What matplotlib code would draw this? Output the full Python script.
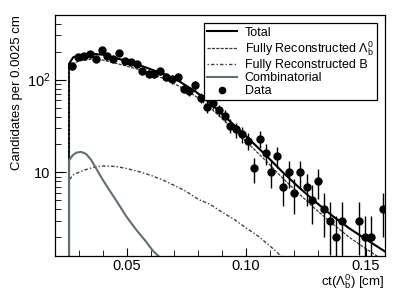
import numpy as np
import matplotlib
matplotlib.use('Agg')
import matplotlib.pyplot as plt
from matplotlib.lines import Line2D
from matplotlib.ticker import FixedLocator, FixedFormatter, LogLocator, NullFormatter, MultipleLocator

plt.rcParams['font.family'] = ['Liberation Sans', 'DejaVu Sans']
plt.rcParams['mathtext.fontset'] = 'custom'
plt.rcParams['mathtext.rm'] = 'Liberation Sans'
plt.rcParams['mathtext.it'] = 'Liberation Sans'

# lower ct cut, curves start here
ct_cut = 0.0259

# data points (bins with zero entries are not drawn)
ct_data = [0.0272, 0.0295, 0.0320, 0.0346, 0.0372, 0.0396, 0.0419, 0.0444, 0.0470, 0.0495,
           0.0518, 0.0543, 0.0566, 0.0593, 0.0616, 0.0640, 0.0663, 0.0688, 0.0714, 0.0739,
           0.0761, 0.0786, 0.0812, 0.0836, 0.0861, 0.0885, 0.0910, 0.0933, 0.0957, 0.0983,
           0.1007, 0.1032, 0.1057, 0.1082, 0.1106, 0.1131, 0.1154, 0.1178, 0.1202, 0.1227,
           0.1254, 0.1276, 0.1302, 0.1327, 0.1351, 0.1376, 0.1399, 0.1472, 0.1497, 0.1522,
           0.1572]
n_data = [140, 176, 178, 189, 168, 208, 180, 167, 194, 159,
          155, 148, 123, 116, 115, 124, 107, 101, 107, 80,
          75, 87, 64, 51, 56, 47, 41, 32, 29, 26,
          22, 11, 23, 16, 10, 15, 7, 10, 6, 10,
          7, 5, 8, 4, 3, 2, 3, 3, 2, 2,
          4]

# fit components
ct_fit = [0.0259, 0.0276, 0.0305, 0.035, 0.040, 0.047, 0.054, 0.061, 0.065, 0.072, 0.079,
          0.086, 0.093, 0.100, 0.108, 0.115, 0.122, 0.129, 0.136, 0.143, 0.150, 0.158]
total = [148, 174, 185, 191, 186, 167, 148, 127, 117, 96, 74,
         53, 36, 24.5, 15.5, 10.2, 6.9, 4.8, 3.4, 2.5, 1.9, 1.4]
lambda_b = [128, 150, 160, 166, 163, 147, 131, 113, 104, 85, 66,
            47, 32, 21.5, 13.5, 8.8, 5.9, 4.0, 2.8, 2.0, 1.5, 1.1]

ct_b = [0.0259, 0.028, 0.032, 0.036, 0.040, 0.045, 0.050, 0.055, 0.060, 0.065, 0.070,
        0.075, 0.080, 0.085, 0.090, 0.095, 0.100, 0.105, 0.110, 0.115]
bkg_b = [8.3, 9.5, 10.5, 11.3, 11.7, 11.6, 11.0, 10.2, 9.3, 8.3, 7.2,
         6.2, 5.1, 4.5, 3.7, 3.1, 2.5, 2.05, 1.6, 1.22]

ct_comb = [0.0259, 0.0275, 0.029, 0.031, 0.033, 0.035, 0.037, 0.040, 0.043, 0.046,
           0.050, 0.054, 0.058, 0.061, 0.064]
comb = [13.5, 15.3, 16.3, 16.6, 15.8, 13.8, 11.3, 8.3, 6.3, 4.8,
        3.3, 2.4, 1.8, 1.42, 1.2]


def with_step(x, y):
    # curves rise from zero at the cut
    return np.r_[ct_cut, x], np.r_[1e-3, y]


fig = plt.figure(figsize=(4.16, 2.99), dpi=100)
ax = fig.add_axes([0.132, 0.144, 0.793, 0.806])

x, y = with_step(ct_fit, total)
l1, = ax.plot(x, y, color='black', lw=1.5)
x, y = with_step(ct_fit, lambda_b)
l2, = ax.plot(x, y, color='#3a3a3a', lw=0.9, ls=(0, (2.5, 1)))
x, y = with_step(ct_b, bkg_b)
l3, = ax.plot(x, y, color='#404040', lw=1.0, ls=(0, (1, 1.5, 2.5, 1.5)))
x, y = with_step(ct_comb, comb)
l4, = ax.plot(x, y, color='#5f6f6f', lw=1.5)

n = np.array(n_data, dtype=float)
ax.errorbar(ct_data, n, yerr=np.sqrt(n), fmt='o', color='black', ms=5,
            elinewidth=1, capsize=0)
dot = Line2D([], [], ls='none', marker='o', color='black', ms=4.5)

ax.set_yscale('log')
ax.set_xlim(0.02, 0.158)
ax.set_ylim(1.25, 500)

ax.xaxis.set_major_locator(FixedLocator([0.05, 0.10, 0.15]))
ax.xaxis.set_major_formatter(FixedFormatter(['0.05', '0.10', '0.15']))
ax.xaxis.set_minor_locator(MultipleLocator(0.01))
ax.yaxis.set_major_locator(FixedLocator([10, 100]))
ax.yaxis.set_major_formatter(FixedFormatter(['10', r'$10^2$']))
ax.yaxis.set_minor_locator(LogLocator(base=10, subs=np.arange(2, 10)))
ax.yaxis.set_minor_formatter(NullFormatter())

ax.tick_params(which='both', direction='in', top=False, right=False, labelsize=10.5)
ax.tick_params(axis='y', which='major', length=8, pad=3)
ax.tick_params(axis='y', which='minor', length=4.3)
ax.tick_params(axis='x', which='major', length=6, pad=2)
ax.tick_params(axis='x', which='minor', length=4)
for s in ax.spines.values():
    s.set_linewidth(0.9)

ax.set_ylabel('Candidates per 0.0025 cm', fontsize=9.5, loc='top', labelpad=3)
ax.set_xlabel(r'ct($\Lambda_b^0$) [cm]', fontsize=9.5, loc='right', labelpad=0)

leg = ax.legend([l1, l2, l3, l4, dot],
                ['Total', r'Fully Reconstructed $\Lambda_b^0$', 'Fully Reconstructed B',
                 'Combinatorial', 'Data'],
                loc='upper right', bbox_to_anchor=(0.976, 0.965), fontsize=9,
                frameon=True, fancybox=False, edgecolor='black', framealpha=1,
                handlelength=2.4, handletextpad=0.6, borderaxespad=0,
                labelspacing=0.08, borderpad=0.25)
leg.get_frame().set_linewidth(0.9)

fig.savefig('out.png', dpi=100)
